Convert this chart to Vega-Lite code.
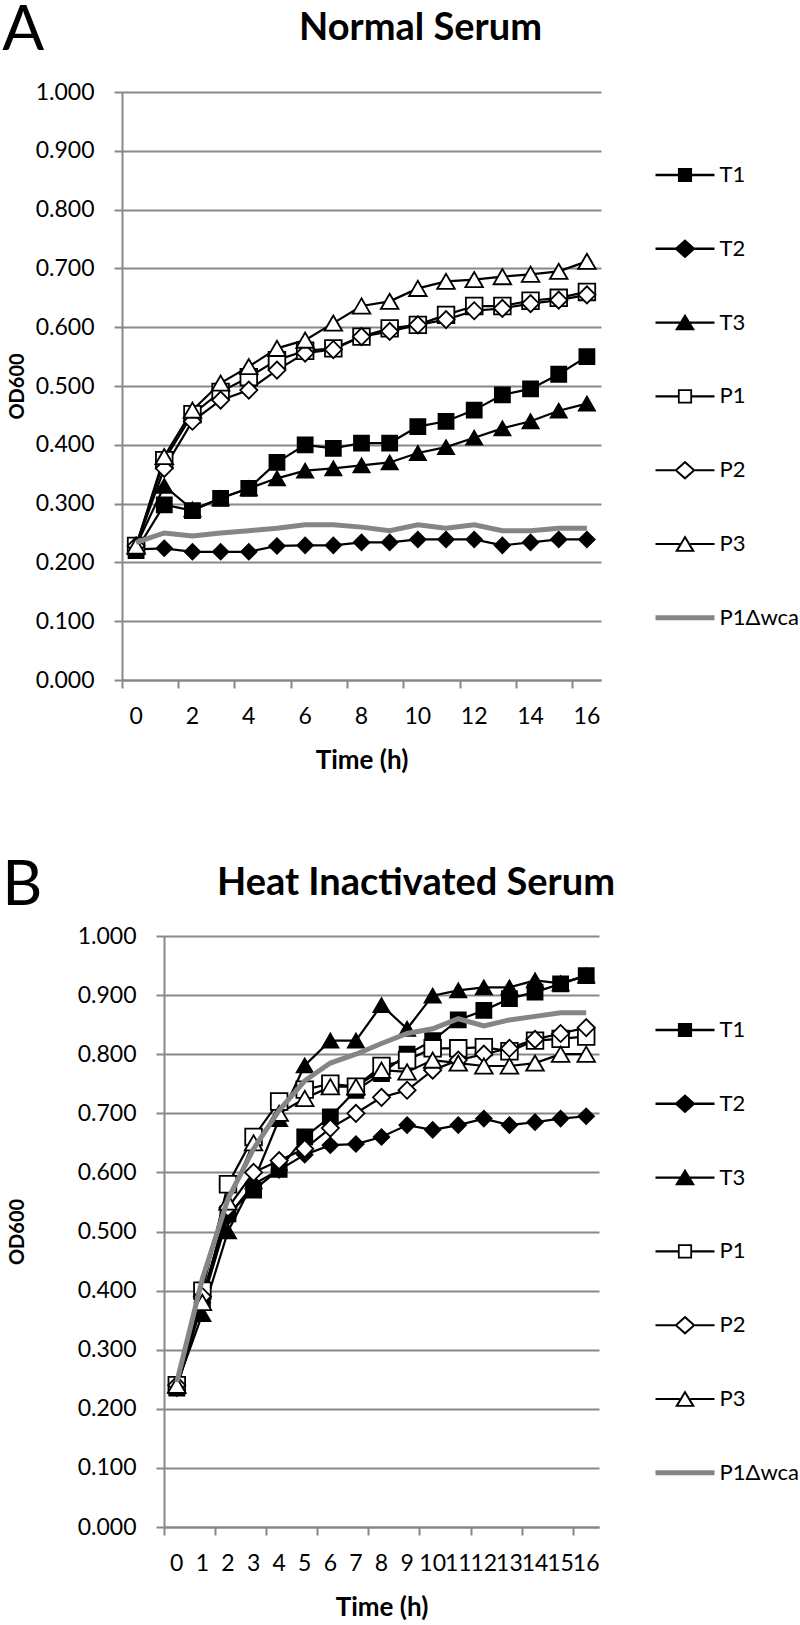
{
  "$schema": "https://vega.github.io/schema/vega-lite/v6.json",
  "padding": {"left": 2, "right": 0, "top": 0, "bottom": 0},
  "background": "white",
  "config": {
    "font": "Lato",
    "view": {"stroke": null},
    "axis": {"labelFont": "Lato", "titleFont": "Lato", "labelColor": "black", "titleColor": "black", "domainColor": "#888888", "tickColor": "#888888", "gridColor": "#888888", "domainWidth": 2, "tickWidth": 2, "gridWidth": 2, "tickSize": 8, "labelFontSize": 23},
    "legend": {"labelFont": "Lato", "labelFontSize": 22, "labelColor": "black", "labelOffset": 5, "labelLimit": 300, "symbolSize": 3481, "symbolStrokeWidth": 0, "symbolOpacity": 1, "rowPadding": 32.8}
  },
  "datasets": {
    "a": [
      {"t":0,"s":"T1","v":0.220},{"t":1,"s":"T1","v":0.298},{"t":2,"s":"T1","v":0.288},{"t":3,"s":"T1","v":0.309},{"t":4,"s":"T1","v":0.326},{"t":5,"s":"T1","v":0.370},{"t":6,"s":"T1","v":0.400},{"t":7,"s":"T1","v":0.394},{"t":8,"s":"T1","v":0.403},{"t":9,"s":"T1","v":0.403},{"t":10,"s":"T1","v":0.431},{"t":11,"s":"T1","v":0.440},{"t":12,"s":"T1","v":0.459},{"t":13,"s":"T1","v":0.485},{"t":14,"s":"T1","v":0.495},{"t":15,"s":"T1","v":0.520},{"t":16,"s":"T1","v":0.550},
      {"t":0,"s":"T2","v":0.222},{"t":1,"s":"T2","v":0.224},{"t":2,"s":"T2","v":0.218},{"t":3,"s":"T2","v":0.218},{"t":4,"s":"T2","v":0.218},{"t":5,"s":"T2","v":0.228},{"t":6,"s":"T2","v":0.229},{"t":7,"s":"T2","v":0.229},{"t":8,"s":"T2","v":0.234},{"t":9,"s":"T2","v":0.234},{"t":10,"s":"T2","v":0.239},{"t":11,"s":"T2","v":0.239},{"t":12,"s":"T2","v":0.239},{"t":13,"s":"T2","v":0.229},{"t":14,"s":"T2","v":0.234},{"t":15,"s":"T2","v":0.239},{"t":16,"s":"T2","v":0.239},
      {"t":0,"s":"T3","v":0.228},{"t":1,"s":"T3","v":0.330},{"t":2,"s":"T3","v":0.290},{"t":3,"s":"T3","v":0.309},{"t":4,"s":"T3","v":0.326},{"t":5,"s":"T3","v":0.343},{"t":6,"s":"T3","v":0.356},{"t":7,"s":"T3","v":0.360},{"t":8,"s":"T3","v":0.365},{"t":9,"s":"T3","v":0.370},{"t":10,"s":"T3","v":0.386},{"t":11,"s":"T3","v":0.396},{"t":12,"s":"T3","v":0.412},{"t":13,"s":"T3","v":0.428},{"t":14,"s":"T3","v":0.440},{"t":15,"s":"T3","v":0.458},{"t":16,"s":"T3","v":0.470},
      {"t":0,"s":"P1","v":0.228},{"t":1,"s":"P1","v":0.374},{"t":2,"s":"P1","v":0.452},{"t":3,"s":"P1","v":0.490},{"t":4,"s":"P1","v":0.515},{"t":5,"s":"P1","v":0.544},{"t":6,"s":"P1","v":0.560},{"t":7,"s":"P1","v":0.564},{"t":8,"s":"P1","v":0.584},{"t":9,"s":"P1","v":0.598},{"t":10,"s":"P1","v":0.604},{"t":11,"s":"P1","v":0.621},{"t":12,"s":"P1","v":0.636},{"t":13,"s":"P1","v":0.636},{"t":14,"s":"P1","v":0.645},{"t":15,"s":"P1","v":0.650},{"t":16,"s":"P1","v":0.660},
      {"t":0,"s":"P2","v":0.228},{"t":1,"s":"P2","v":0.360},{"t":2,"s":"P2","v":0.440},{"t":3,"s":"P2","v":0.476},{"t":4,"s":"P2","v":0.493},{"t":5,"s":"P2","v":0.527},{"t":6,"s":"P2","v":0.556},{"t":7,"s":"P2","v":0.562},{"t":8,"s":"P2","v":0.584},{"t":9,"s":"P2","v":0.593},{"t":10,"s":"P2","v":0.604},{"t":11,"s":"P2","v":0.613},{"t":12,"s":"P2","v":0.628},{"t":13,"s":"P2","v":0.632},{"t":14,"s":"P2","v":0.640},{"t":15,"s":"P2","v":0.646},{"t":16,"s":"P2","v":0.655},
      {"t":0,"s":"P3","v":0.228},{"t":1,"s":"P3","v":0.380},{"t":2,"s":"P3","v":0.459},{"t":3,"s":"P3","v":0.505},{"t":4,"s":"P3","v":0.533},{"t":5,"s":"P3","v":0.564},{"t":6,"s":"P3","v":0.578},{"t":7,"s":"P3","v":0.607},{"t":8,"s":"P3","v":0.636},{"t":9,"s":"P3","v":0.644},{"t":10,"s":"P3","v":0.666},{"t":11,"s":"P3","v":0.678},{"t":12,"s":"P3","v":0.681},{"t":13,"s":"P3","v":0.686},{"t":14,"s":"P3","v":0.690},{"t":15,"s":"P3","v":0.695},{"t":16,"s":"P3","v":0.712},
      {"t":0,"s":"P1Δwca","v":0.234},{"t":1,"s":"P1Δwca","v":0.250},{"t":2,"s":"P1Δwca","v":0.245},{"t":3,"s":"P1Δwca","v":0.250},{"t":4,"s":"P1Δwca","v":0.254},{"t":5,"s":"P1Δwca","v":0.258},{"t":6,"s":"P1Δwca","v":0.264},{"t":7,"s":"P1Δwca","v":0.264},{"t":8,"s":"P1Δwca","v":0.260},{"t":9,"s":"P1Δwca","v":0.254},{"t":10,"s":"P1Δwca","v":0.264},{"t":11,"s":"P1Δwca","v":0.258},{"t":12,"s":"P1Δwca","v":0.264},{"t":13,"s":"P1Δwca","v":0.254},{"t":14,"s":"P1Δwca","v":0.254},{"t":15,"s":"P1Δwca","v":0.258},{"t":16,"s":"P1Δwca","v":0.258}
    ],
    "b": [
      {"t":0,"s":"T1","v":0.235},{"t":1,"s":"T1","v":0.385},{"t":2,"s":"T1","v":0.530},{"t":3,"s":"T1","v":0.570},{"t":4,"s":"T1","v":0.605},{"t":5,"s":"T1","v":0.660},{"t":6,"s":"T1","v":0.694},{"t":7,"s":"T1","v":0.739},{"t":8,"s":"T1","v":0.767},{"t":9,"s":"T1","v":0.800},{"t":10,"s":"T1","v":0.823},{"t":11,"s":"T1","v":0.858},{"t":12,"s":"T1","v":0.874},{"t":13,"s":"T1","v":0.894},{"t":14,"s":"T1","v":0.905},{"t":15,"s":"T1","v":0.919},{"t":16,"s":"T1","v":0.933},
      {"t":0,"s":"T2","v":0.235},{"t":1,"s":"T2","v":0.380},{"t":2,"s":"T2","v":0.525},{"t":3,"s":"T2","v":0.580},{"t":4,"s":"T2","v":0.604},{"t":5,"s":"T2","v":0.630},{"t":6,"s":"T2","v":0.646},{"t":7,"s":"T2","v":0.648},{"t":8,"s":"T2","v":0.660},{"t":9,"s":"T2","v":0.680},{"t":10,"s":"T2","v":0.672},{"t":11,"s":"T2","v":0.680},{"t":12,"s":"T2","v":0.691},{"t":13,"s":"T2","v":0.680},{"t":14,"s":"T2","v":0.685},{"t":15,"s":"T2","v":0.691},{"t":16,"s":"T2","v":0.695},
      {"t":0,"s":"T3","v":0.240},{"t":1,"s":"T3","v":0.360},{"t":2,"s":"T3","v":0.500},{"t":3,"s":"T3","v":0.585},{"t":4,"s":"T3","v":0.690},{"t":5,"s":"T3","v":0.781},{"t":6,"s":"T3","v":0.823},{"t":7,"s":"T3","v":0.823},{"t":8,"s":"T3","v":0.883},{"t":9,"s":"T3","v":0.843},{"t":10,"s":"T3","v":0.899},{"t":11,"s":"T3","v":0.908},{"t":12,"s":"T3","v":0.913},{"t":13,"s":"T3","v":0.913},{"t":14,"s":"T3","v":0.925},{"t":15,"s":"T3","v":0.920},{"t":16,"s":"T3","v":0.933},
      {"t":0,"s":"P1","v":0.240},{"t":1,"s":"P1","v":0.400},{"t":2,"s":"P1","v":0.580},{"t":3,"s":"P1","v":0.660},{"t":4,"s":"P1","v":0.720},{"t":5,"s":"P1","v":0.740},{"t":6,"s":"P1","v":0.750},{"t":7,"s":"P1","v":0.745},{"t":8,"s":"P1","v":0.780},{"t":9,"s":"P1","v":0.790},{"t":10,"s":"P1","v":0.810},{"t":11,"s":"P1","v":0.810},{"t":12,"s":"P1","v":0.812},{"t":13,"s":"P1","v":0.805},{"t":14,"s":"P1","v":0.823},{"t":15,"s":"P1","v":0.826},{"t":16,"s":"P1","v":0.830},
      {"t":0,"s":"P2","v":0.240},{"t":1,"s":"P2","v":0.390},{"t":2,"s":"P2","v":0.540},{"t":3,"s":"P2","v":0.600},{"t":4,"s":"P2","v":0.620},{"t":5,"s":"P2","v":0.640},{"t":6,"s":"P2","v":0.675},{"t":7,"s":"P2","v":0.700},{"t":8,"s":"P2","v":0.727},{"t":9,"s":"P2","v":0.739},{"t":10,"s":"P2","v":0.773},{"t":11,"s":"P2","v":0.790},{"t":12,"s":"P2","v":0.800},{"t":13,"s":"P2","v":0.810},{"t":14,"s":"P2","v":0.825},{"t":15,"s":"P2","v":0.835},{"t":16,"s":"P2","v":0.845},
      {"t":0,"s":"P3","v":0.240},{"t":1,"s":"P3","v":0.380},{"t":2,"s":"P3","v":0.550},{"t":3,"s":"P3","v":0.650},{"t":4,"s":"P3","v":0.700},{"t":5,"s":"P3","v":0.725},{"t":6,"s":"P3","v":0.745},{"t":7,"s":"P3","v":0.745},{"t":8,"s":"P3","v":0.773},{"t":9,"s":"P3","v":0.770},{"t":10,"s":"P3","v":0.790},{"t":11,"s":"P3","v":0.785},{"t":12,"s":"P3","v":0.780},{"t":13,"s":"P3","v":0.780},{"t":14,"s":"P3","v":0.785},{"t":15,"s":"P3","v":0.800},{"t":16,"s":"P3","v":0.800},
      {"t":0,"s":"P1Δwca","v":0.245},{"t":1,"s":"P1Δwca","v":0.420},{"t":2,"s":"P1Δwca","v":0.555},{"t":3,"s":"P1Δwca","v":0.640},{"t":4,"s":"P1Δwca","v":0.705},{"t":5,"s":"P1Δwca","v":0.755},{"t":6,"s":"P1Δwca","v":0.785},{"t":7,"s":"P1Δwca","v":0.800},{"t":8,"s":"P1Δwca","v":0.818},{"t":9,"s":"P1Δwca","v":0.835},{"t":10,"s":"P1Δwca","v":0.843},{"t":11,"s":"P1Δwca","v":0.860},{"t":12,"s":"P1Δwca","v":0.848},{"t":13,"s":"P1Δwca","v":0.858},{"t":14,"s":"P1Δwca","v":0.864},{"t":15,"s":"P1Δwca","v":0.870},{"t":16,"s":"P1Δwca","v":0.870}
    ]
  },
  "spacing": 82,
  "vconcat": [
    {
      "title": {"text": "A", "fontSize": 62, "fontWeight": "normal", "font": "Lato", "color": "black", "anchor": "start", "frame": "bounds", "dx": -5, "offset": -53},
      "vconcat": [
        {
          "width": 479, "height": 588,
          "title": {"text": "Normal Serum", "fontSize": 38, "fontWeight": "bold", "font": "Lato", "color": "black", "anchor": "middle", "frame": "group", "dx": 59, "offset": 33},
          "data": {"name": "a"},
          "resolve": {"scale": {"shape": "independent", "fill": "independent"}},
          "encoding": {
            "x": {"field": "t", "type": "ordinal", "scale": {"type": "band", "paddingInner": 0, "paddingOuter": 0},
                  "axis": {"values": [0,2,4,6,8,10,12,14,16], "bandPosition": 0, "labelAngle": 0, "labelPadding": 17, "labelOverlap": false, "title": "Time (h)", "titleFontSize": 26, "titleFontWeight": "bold", "titlePadding": 19}},
            "y": {"field": "v", "type": "quantitative", "scale": {"domain": [0, 1]},
                  "axis": {"values": [0,0.1,0.2,0.3,0.4,0.5,0.6,0.7,0.8,0.9,1], "format": ".3f", "grid": true, "labelPadding": 20, "title": "OD600", "titleFontSize": 20, "titleFontWeight": "bold", "titlePadding": 8}}
          },
          "layer": [
            {"mark": {"type": "point", "filled": true, "opacity": 0},
             "encoding": {
               "shape": {"field": "s", "type": "nominal", "scale": {"domain": ["T1","T2","T3","P1","P2","P3","P1Δwca"], "range": ["M-1,-0.04H1V0.04H-1Z M-0.24,-0.24H0.24V0.24H-0.24Z", "M-1,-0.04H1V0.04H-1Z M0,-0.32L0.36,0L0,0.32L-0.36,0Z", "M-1,-0.04H1V0.04H-1Z M0,-0.3L0.34,0.26L-0.34,0.26Z", "M-1,-0.035H-0.24V0.035H-1Z M0.24,-0.035H1V0.035H0.24Z M-0.24,-0.24H0.24V0.24H-0.24Z M-0.18,-0.18V0.18H0.18V-0.18Z", "M-1,-0.035H-0.34V0.035H-1Z M0.34,-0.035H1V0.035H0.34Z M0,-0.32L0.36,0L0,0.32L-0.36,0Z M0,-0.23L-0.26,0L0,0.23L0.26,0Z", "M-1,-0.035H-0.18V0.035H-1Z M0.18,-0.035H1V0.035H0.18Z M0,-0.3L0.34,0.26L-0.34,0.26Z M0,-0.17L-0.22,0.2L0.22,0.2Z", "M-1,-0.085H1V0.085H-1Z"]},
                         "legend": {"title": null, "orient": "right", "offset": 1, "padding": 53.5, "symbolOpacity": 1}},
               "fill": {"field": "s", "type": "nominal", "scale": {"domain": ["T1","T2","T3","P1","P2","P3","P1Δwca"], "range": ["black","black","black","black","black","black","#858585"]},
                         "legend": {"title": null, "orient": "right", "offset": 1, "padding": 53.5, "symbolOpacity": 1}}
             }},
            {"transform": [{"filter": "datum.s !== 'P1Δwca'"}],
             "mark": {"type": "line", "strokeWidth": 2.2, "color": "black"},
             "encoding": {"detail": {"field": "s", "type": "nominal"}}},
            {"transform": [{"filter": "datum.s !== 'P1Δwca'"}],
             "mark": {"type": "point", "filled": true, "opacity": 1, "stroke": "black", "strokeWidth": 1.8},
             "encoding": {
               "shape": {"field": "s", "type": "nominal", "scale": {"domain": ["T1","T2","T3","P1","P2","P3"], "range": ["square","diamond","triangle-up","square","diamond","triangle-up"]}, "legend": null},
               "fill": {"field": "s", "type": "nominal", "scale": {"domain": ["T1","T2","T3","P1","P2","P3"], "range": ["black","black","black","white","white","white"]}, "legend": null},
               "size": {"field": "s", "type": "nominal", "scale": {"domain": ["T1","T2","T3","P1","P2","P3"], "range": [225, 310, 270, 170, 270, 250]}, "legend": null}
             }},
            {"transform": [{"filter": "datum.s === 'P1Δwca'"}],
             "mark": {"type": "line", "strokeWidth": 5, "color": "#858585"},
             "encoding": {}}
          ]
        }
      ]
    },
    {
      "title": {"text": "B", "fontSize": 62, "fontWeight": "normal", "font": "Lato", "color": "black", "anchor": "start", "frame": "bounds", "dx": -5, "offset": -53},
      "vconcat": [
        {
          "width": 477, "height": 591,
          "title": {"text": "Heat Inactivated Serum", "fontSize": 38, "fontWeight": "bold", "font": "Lato", "color": "black", "anchor": "middle", "frame": "group", "dx": 55.5, "offset": 22},
          "data": {"name": "b"},
          "resolve": {"scale": {"shape": "independent", "fill": "independent"}},
          "encoding": {
            "x": {"field": "t", "type": "ordinal", "scale": {"type": "band", "paddingInner": 0, "paddingOuter": 0, "range": [42, 477]},
                  "axis": {"bandPosition": 0, "labelAngle": 0, "labelPadding": 17, "labelOverlap": false, "labelBound": false, "tickOpacity": {"condition": {"test": "datum.value % 2 === 0", "value": 1}, "value": 0}, "title": "Time (h)", "titleFontSize": 26, "titleFontWeight": "bold", "titlePadding": 19}},
            "y": {"field": "v", "type": "quantitative", "scale": {"domain": [0, 1]},
                  "axis": {"offset": -42, "values": [0,0.1,0.2,0.3,0.4,0.5,0.6,0.7,0.8,0.9,1], "format": ".3f", "grid": true, "labelPadding": 20, "title": "OD600", "titleFontSize": 20, "titleFontWeight": "bold", "titlePadding": 50}}
          },
          "layer": [
            {"mark": {"type": "point", "filled": true, "opacity": 0},
             "encoding": {
               "shape": {"field": "s", "type": "nominal", "scale": {"domain": ["T1","T2","T3","P1","P2","P3","P1Δwca"], "range": ["M-1,-0.04H1V0.04H-1Z M-0.24,-0.24H0.24V0.24H-0.24Z", "M-1,-0.04H1V0.04H-1Z M0,-0.32L0.36,0L0,0.32L-0.36,0Z", "M-1,-0.04H1V0.04H-1Z M0,-0.3L0.34,0.26L-0.34,0.26Z", "M-1,-0.035H-0.24V0.035H-1Z M0.24,-0.035H1V0.035H0.24Z M-0.24,-0.24H0.24V0.24H-0.24Z M-0.18,-0.18V0.18H0.18V-0.18Z", "M-1,-0.035H-0.34V0.035H-1Z M0.34,-0.035H1V0.035H0.34Z M0,-0.32L0.36,0L0,0.32L-0.36,0Z M0,-0.23L-0.26,0L0,0.23L0.26,0Z", "M-1,-0.035H-0.18V0.035H-1Z M0.18,-0.035H1V0.035H0.18Z M0,-0.3L0.34,0.26L-0.34,0.26Z M0,-0.17L-0.22,0.2L0.22,0.2Z", "M-1,-0.085H1V0.085H-1Z"]},
                         "legend": {"title": null, "orient": "right", "offset": -8, "padding": 64.5, "symbolOpacity": 1}},
               "fill": {"field": "s", "type": "nominal", "scale": {"domain": ["T1","T2","T3","P1","P2","P3","P1Δwca"], "range": ["black","black","black","black","black","black","#858585"]},
                         "legend": {"title": null, "orient": "right", "offset": -8, "padding": 64.5, "symbolOpacity": 1}}
             }},
            {"transform": [{"filter": "datum.s !== 'P1Δwca'"}],
             "mark": {"type": "line", "strokeWidth": 2.2, "color": "black"},
             "encoding": {"detail": {"field": "s", "type": "nominal"}}},
            {"transform": [{"filter": "datum.s !== 'P1Δwca'"}],
             "mark": {"type": "point", "filled": true, "opacity": 1, "stroke": "black", "strokeWidth": 1.8},
             "encoding": {
               "shape": {"field": "s", "type": "nominal", "scale": {"domain": ["T1","T2","T3","P1","P2","P3"], "range": ["square","diamond","triangle-up","square","diamond","triangle-up"]}, "legend": null},
               "fill": {"field": "s", "type": "nominal", "scale": {"domain": ["T1","T2","T3","P1","P2","P3"], "range": ["black","black","black","white","white","white"]}, "legend": null},
               "size": {"field": "s", "type": "nominal", "scale": {"domain": ["T1","T2","T3","P1","P2","P3"], "range": [225, 310, 270, 170, 270, 250]}, "legend": null}
             }},
            {"transform": [{"filter": "datum.s === 'P1Δwca'"}],
             "mark": {"type": "line", "strokeWidth": 5, "color": "#858585"},
             "encoding": {}}
          ]
        }
      ]
    }
  ]
}
